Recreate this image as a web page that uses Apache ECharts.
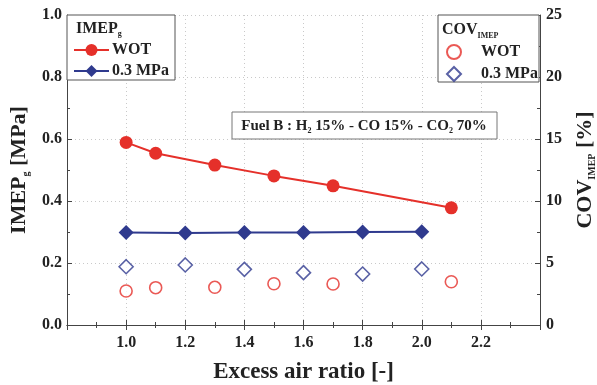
<!DOCTYPE html>
<html>
<head>
<meta charset="utf-8">
<script src="https://cdn.jsdelivr.net/npm/echarts@6/dist/echarts.min.js"></script>
<style>
    html, body { margin: 0; padding: 0; background: #fff; }
    #chart { width: 597px; height: 385px; }
</style>
</head>
<body>
<div id="chart"></div>
<script>
// 过量空气系数 - WOT 与 0.3 MPa 两组工况
const ratioWot = [1.0, 1.1, 1.3, 1.5, 1.7, 2.1];
const imepWot = [0.589, 0.554, 0.516, 0.481, 0.449, 0.378];
const covWot = [2.74, 3.01, 3.04, 3.33, 3.31, 3.49];

const ratioPart = [1.0, 1.2, 1.4, 1.6, 1.8, 2.0];
const imepPart = [0.298, 0.297, 0.298, 0.298, 0.3, 0.301];
const covPart = [4.7, 4.84, 4.49, 4.22, 4.11, 4.52];

const xLabels = ["1.0", "1.2", "1.4", "1.6", "1.8", "2.0", "2.2"];

const RED = "#e5302a";
const BLUE = "#2f3a8e";
const AXIS = "#444";
const FONT = "'Liberation Serif', 'Times New Roman', serif";

const pairs = (xs, ys) => xs.map((x, i) => [x, ys[i]]);

const gridLine = { show: true, lineStyle: { color: "#c9c9c9", type: [1, 3], width: 1 } };
const tickStyle = { inside: true, length: 5, lineStyle: { color: AXIS, width: 1 } };
const minorStyle = { show: true, splitNumber: 2, length: 3, lineStyle: { color: AXIS, width: 1 } };
const labelStyle = { fontFamily: FONT, fontWeight: "bold", fontSize: 16, color: "#222" };

const richName = {
    m: { fontFamily: FONT, fontWeight: "bold", fontSize: 22, color: "#222", lineHeight: 24 },
    s: { fontFamily: FONT, fontWeight: "bold", fontSize: 10, color: "#222", lineHeight: 10, verticalAlign: "bottom" }
};

const chart = echarts.init(document.getElementById("chart"), null, { renderer: "canvas" });

const option = {
    animation: false,
    backgroundColor: "#fff",
    grid: { left: 67, right: 57, top: 15, bottom: 60, containLabel: false, outerBoundsMode: "none" },
    xAxis: [
        {
            type: "value",
            min: 0.8,
            max: 2.4,
            interval: 0.2,
            name: "Excess air ratio [-]",
            nameLocation: "middle",
            nameGap: 36,
            nameTextStyle: { fontFamily: FONT, fontWeight: "bold", fontSize: 23, color: "#222" },
            axisLine: { lineStyle: { color: AXIS, width: 1 } },
            axisTick: tickStyle,
            minorTick: minorStyle,
            splitLine: gridLine,
            axisLabel: Object.assign({}, labelStyle, {
                margin: 10,
                formatter: v => {
                    const s = v.toFixed(1);
                    return xLabels.indexOf(s) >= 0 ? s : "";
                }
            })
        },
        {
            type: "value",
            position: "top",
            min: 0.8,
            max: 2.4,
            interval: 0.2,
            axisLine: { show: true, lineStyle: { color: AXIS, width: 1 } },
            axisTick: tickStyle,
            minorTick: minorStyle,
            splitLine: { show: false },
            axisLabel: { show: false }
        }
    ],
    yAxis: [
        {
            type: "value",
            min: 0,
            max: 1.0,
            interval: 0.2,
            name: "{m|IMEP}{s|g}{m| [MPa]}",
            nameLocation: "middle",
            nameRotate: 90,
            nameGap: 34,
            nameTextStyle: { rich: richName },
            axisLine: { show: true, lineStyle: { color: AXIS, width: 1 } },
            axisTick: tickStyle,
            minorTick: minorStyle,
            splitLine: gridLine,
            axisLabel: Object.assign({}, labelStyle, {
                margin: 5,
                formatter: v => v.toFixed(1)
            })
        },
        {
            type: "value",
            position: "right",
            min: 0,
            max: 25,
            interval: 5,
            name: "{m|COV}{s|IMEP}{m| [%]}",
            nameLocation: "middle",
            nameRotate: 90,
            nameGap: 33,
            nameTextStyle: { rich: richName },
            axisLine: { show: true, lineStyle: { color: AXIS, width: 1 } },
            axisTick: tickStyle,
            minorTick: minorStyle,
            splitLine: { show: false },
            axisLabel: Object.assign({}, labelStyle, { margin: 6 })
        }
    ],
    legend: [
        {
            data: ["IMEP WOT", "IMEP 0.3 MPa"],
            orient: "vertical",
            left: 73,
            top: 42,
            itemWidth: 35,
            itemHeight: 15,
            itemGap: 5,
            padding: 0,
            formatter: n => n.replace("IMEP ", ""),
            textStyle: { fontFamily: FONT, fontWeight: "bold", fontSize: 16, color: "#222", padding: [0, 0, 0, -2] }
        },
        {
            data: ["COV WOT", "COV 0.3 MPa"],
            orient: "vertical",
            left: 446,
            top: 44,
            itemWidth: 14,
            itemHeight: 14,
            itemGap: 6,
            padding: 0,
            formatter: n => n.replace("COV ", ""),
            textStyle: { fontFamily: FONT, fontWeight: "bold", fontSize: 16, color: "#222", padding: [0, 0, 0, 15] }
        }
    ],
    series: [
        {
            name: "IMEP WOT",
            type: "line",
            xAxisIndex: 0,
            yAxisIndex: 0,
            data: pairs(ratioWot, imepWot),
            symbol: "circle",
            symbolSize: 13,
            itemStyle: { color: RED },
            lineStyle: { color: RED, width: 2 },
            z: 5
        },
        {
            name: "IMEP 0.3 MPa",
            type: "line",
            xAxisIndex: 0,
            yAxisIndex: 0,
            data: pairs(ratioPart, imepPart),
            symbol: "diamond",
            symbolSize: 15,
            itemStyle: { color: BLUE },
            lineStyle: { color: BLUE, width: 2 },
            z: 5
        },
        {
            name: "COV WOT",
            type: "scatter",
            xAxisIndex: 0,
            yAxisIndex: 1,
            data: pairs(ratioWot, covWot),
            symbol: "circle",
            symbolSize: 12,
            itemStyle: { color: "#fff", borderColor: RED, borderWidth: 1.6 }
        },
        {
            name: "COV 0.3 MPa",
            type: "scatter",
            xAxisIndex: 0,
            yAxisIndex: 1,
            data: pairs(ratioPart, covPart),
            symbol: "diamond",
            symbolSize: 14,
            itemStyle: { color: "#fff", borderColor: BLUE, borderWidth: 1.6 }
        }
    ],
    graphic: [
        {
            type: "rect",
            shape: { x: 67, y: 15, width: 108, height: 65 },
            style: { fill: "#fff", stroke: "#555", lineWidth: 1 },
            z: 1
        },
        {
            type: "text",
            x: 76,
            y: 20,
            style: {
                text: "{m|IMEP}{s|g}",
                rich: {
                    m: { fontFamily: FONT, fontWeight: "bold", fontSize: 16, fill: "#222", lineHeight: 18 },
                    s: { fontFamily: FONT, fontWeight: "bold", fontSize: 8, fill: "#222", lineHeight: 8, verticalAlign: "bottom" }
                }
            },
            z: 2
        },
        {
            type: "rect",
            shape: { x: 438, y: 15, width: 101, height: 67 },
            style: { fill: "#fff", stroke: "#555", lineWidth: 1 },
            z: 1
        },
        {
            type: "text",
            x: 442,
            y: 20,
            style: {
                text: "{m|COV}{s|IMEP}",
                rich: {
                    m: { fontFamily: FONT, fontWeight: "bold", fontSize: 16, fill: "#222", lineHeight: 20 },
                    s: { fontFamily: FONT, fontWeight: "bold", fontSize: 8, fill: "#222", lineHeight: 8, verticalAlign: "bottom" }
                }
            },
            z: 2
        },
        {
            type: "rect",
            shape: { x: 232, y: 112, width: 265, height: 27 },
            style: { fill: "#fff", stroke: "#777", lineWidth: 1 },
            z: 1
        },
        {
            type: "text",
            x: 364,
            y: 126,
            style: {
                text: "{m|Fuel B : H}{s|2}{m| 15% - CO 15% - CO}{s|2}{m| 70%}",
                align: "center",
                verticalAlign: "middle",
                rich: {
                    m: { fontFamily: FONT, fontWeight: "bold", fontSize: 15, fill: "#222", lineHeight: 18 },
                    s: { fontFamily: FONT, fontWeight: "bold", fontSize: 8, fill: "#222", lineHeight: 8, verticalAlign: "bottom" }
                }
            },
            z: 2
        }
    ]
};

chart.setOption(option);
window.addEventListener("resize", () => chart.resize());
</script>
</body>
</html>
